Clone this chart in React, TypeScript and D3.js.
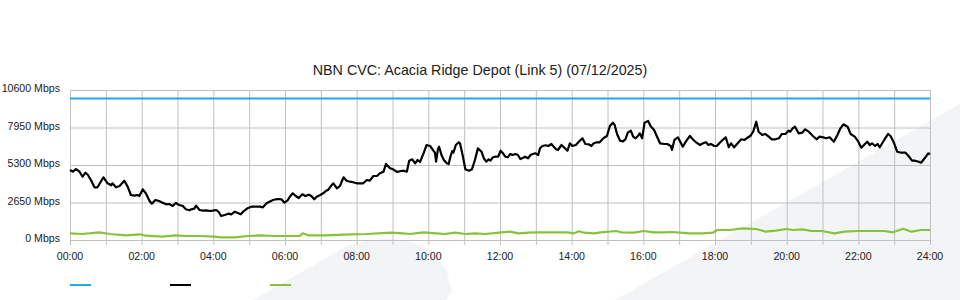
import React from "react";
import * as d3 from "d3";

const title = "NBN CVC: Acacia Ridge Depot (Link 5) (07/12/2025)";
const yTicks = [0, 2650, 5300, 7950, 10600];
const xGridHours = d3.range(0, 25, 1);
const xLabelHours = [0, 2, 4, 6, 8, 10, 12, 14, 16, 18, 20, 22, 24];

// capacity (blue)
const capacity: [number, number][] = [[0, 10000], [1440, 10000]];

// traffic (black) [minute of day, Mbps]
const inbound: [number, number][] = [
  [0,4947],[5,4827],[10,5017],[16,4827],[21,4473],[26,4756],[30,4593],[35,4240],[41,3724],[46,3724],[56,4431],[63,4007],[69,3866],[71,4007],[77,3724],[83,3816],[91,4191],[97,3724],[102,3180],[108,3131],[113,3180],[116,3109],[122,3583],[127,3300],[133,2777],[137,2565],[143,2827],[149,2756],[155,2636],[161,2523],[166,2544],[172,2403],[177,2615],[183,2473],[189,2403],[194,2169],[200,2099],[203,2169],[208,2212],[211,2424],[217,2120],[223,2071],[228,2099],[234,2049],[239,2071],[245,2120],[249,1979],[253,1696],[259,1767],[265,1859],[270,1816],[276,2000],[280,1929],[286,1816],[291,2049],[297,2240],[304,2353],[312,2353],[318,2353],[323,2311],[329,2593],[334,2707],[340,2827],[345,2876],[349,2897],[354,2876],[359,2636],[364,2777],[368,3060],[373,3300],[378,3109],[383,2968],[389,3229],[394,3109],[400,3201],[404,3109],[409,2876],[413,3060],[419,3180],[424,3300],[429,3484],[432,3533],[437,3816],[441,4007],[447,3653],[452,3816],[458,4431],[463,4191],[469,4120],[474,4078],[480,4007],[486,4007],[491,4007],[497,4240],[502,4191],[508,4523],[514,4523],[519,4713],[525,4827],[529,5371],[536,5067],[541,4996],[548,4805],[554,4876],[559,4897],[564,4827],[568,5604],[573,5703],[578,5420],[582,5653],[586,5512],[592,6127],[597,6713],[603,6643],[607,6410],[611,6169],[613,5533],[616,6410],[618,6593],[622,6007],[626,5653],[631,5420],[634,5371],[637,5887],[640,6289],[642,6169],[646,6713],[651,6904],[653,6833],[658,5887],[662,4996],[668,4897],[673,4996],[678,5653],[683,6480],[689,6240],[693,5774],[697,5533],[701,5703],[704,5604],[708,5844],[712,5887],[717,5887],[721,6311],[725,6127],[729,5887],[733,5844],[737,6077],[741,6007],[746,6077],[750,6007],[754,5724],[758,5795],[762,5887],[767,5773],[771,6007],[775,6077],[779,6127],[784,6007],[787,6480],[791,6643],[796,6692],[801,6643],[806,6784],[810,6593],[814,6410],[817,6360],[823,6713],[827,6551],[833,6311],[837,6833],[841,6643],[847,6713],[852,6947],[858,7187],[863,6784],[869,6763],[873,6643],[877,6833],[882,6904],[887,6904],[893,7187],[899,7349],[904,8056],[909,8289],[912,8127],[916,7491],[921,7017],[926,6975],[930,7116],[934,7583],[939,7724],[943,7300],[947,7187],[951,7349],[954,7540],[958,7187],[962,8289],[968,8409],[972,8056],[978,7773],[983,7300],[988,6833],[995,6784],[1000,6784],[1006,6643],[1008,6360],[1012,7067],[1018,7258],[1021,7017],[1026,6593],[1031,6947],[1038,7349],[1044,7067],[1049,6876],[1055,6713],[1060,6833],[1065,6904],[1069,6713],[1073,6784],[1079,6643],[1083,6643],[1088,6876],[1094,7116],[1098,7258],[1103,6551],[1107,6833],[1112,6551],[1118,6833],[1124,7116],[1129,7067],[1133,7187],[1139,7349],[1144,7653],[1149,8360],[1153,7653],[1159,7420],[1164,7491],[1170,7300],[1175,7116],[1181,7116],[1187,7187],[1192,7491],[1198,7491],[1203,7724],[1206,7653],[1210,7893],[1214,8007],[1220,7540],[1226,7582],[1231,7823],[1237,7653],[1244,7349],[1250,7116],[1255,7300],[1261,7258],[1266,7187],[1272,7258],[1279,6947],[1285,7420],[1290,7893],[1295,8176],[1302,8007],[1307,7491],[1314,7300],[1320,6947],[1325,6523],[1331,6784],[1335,6947],[1339,6713],[1343,6833],[1348,6643],[1352,6784],[1356,6551],[1360,6833],[1365,7187],[1370,7491],[1374,7349],[1380,6833],[1385,6240],[1392,6169],[1399,6169],[1404,5936],[1410,5604],[1415,5604],[1421,5533],[1425,5462],[1431,5773],[1437,6127],[1440,6060]
];

// traffic (green) [minute of day, Mbps]
const outbound: [number, number][] = [
  [0,473],[20,424],[49,544],[67,424],[94,332],[117,403],[127,304],[155,233],[177,332],[194,283],[218,283],[242,233],[253,191],[276,191],[298,283],[318,332],[343,283],[365,283],[385,283],[390,473],[399,332],[427,332],[458,375],[497,424],[536,516],[558,473],[569,424],[592,544],[613,473],[628,424],[645,516],[662,424],[678,473],[695,424],[718,516],[737,587],[751,473],[767,516],[785,544],[817,544],[833,544],[844,473],[852,615],[861,516],[877,473],[889,544],[914,636],[923,544],[944,516],[961,636],[978,544],[995,544],[1006,565],[1021,516],[1037,473],[1059,473],[1076,516],[1084,707],[1105,707],[1126,827],[1149,777],[1165,587],[1182,657],[1199,777],[1211,707],[1227,756],[1241,636],[1259,636],[1280,473],[1297,587],[1320,636],[1364,636],[1378,544],[1395,799],[1409,587],[1425,707],[1440,707]
];

const seriesColors = ["#22a9e1", "#000000", "#86c33a"];

const W = 960;
const H = 300;
const M = { left: 70, right: 30, top: 90, bottom: 60 };

const hourLabel = (h: number) => `${String(h).padStart(2, "0")}:00`;

export default function App() {
  const x = d3.scaleLinear().domain([0, 1440]).range([M.left, W - M.right]);
  const y = d3.scaleLinear().domain([0, 10600]).range([H - M.bottom, M.top]);
  const line = d3
    .line<[number, number]>()
    .x((d) => x(d[0]))
    .y((d) => y(d[1]));
  const font = "'Liberation Sans', Arial, sans-serif";
  const grid = "#c0c0c0";
  const y0 = y(0);
  const y1 = y(10600);
  const legendX = [70, 170, 270];

  return (
    <svg
      width={W}
      height={H}
      style={{ position: "absolute", left: 0, top: 0, display: "block", background: "#fff" }}
      fontFamily={font}
    >
      {/* watermark */}
      <path d="M253,300 L345,247 Q372,236 403,240 Q432,245 447,272 L452,292 L446,300 Z" fill="#f3f4f6" />
      <path d="M615,300 L960,104 L960,300 Z" fill="#f3f4f6" />

      <text x={480} y={75} textAnchor="middle" fontSize={14.3} fill="#222">
        {title}
      </text>

      {/* grid */}
      {yTicks.map((t) => (
        <line key={"h" + t} x1={M.left} x2={W - M.right} y1={y(t) + 0.5} y2={y(t) + 0.5} stroke={grid} strokeWidth={1} />
      ))}
      {xGridHours.map((h) => (
        <line key={"v" + h} x1={x(h * 60) + 0.5} x2={x(h * 60) + 0.5} y1={y1} y2={y0 + 5} stroke={grid} strokeWidth={1} />
      ))}

      {/* y labels */}
      {yTicks.map((t) => (
        <text key={"yl" + t} x={60} y={y(t) + 2} textAnchor="end" fontSize={10.6} fill="#222">
          {`${t} Mbps`}
        </text>
      ))}
      {/* x labels */}
      {xLabelHours.map((h) => (
        <text key={"xl" + h} x={x(h * 60)} y={260} textAnchor="middle" fontSize={10.6} fill="#222">
          {hourLabel(h)}
        </text>
      ))}

      {/* series */}
      <path d={line(capacity) || ""} fill="none" stroke={seriesColors[0]} strokeWidth={2} />
      <path d={line(outbound) || ""} fill="none" stroke={seriesColors[2]} strokeWidth={2.2} strokeLinejoin="round" />
      <path d={line(inbound) || ""} fill="none" stroke={seriesColors[1]} strokeWidth={2.2} strokeLinejoin="round" />

      {/* legend */}
      {seriesColors.map((c, i) => (
        <line key={"lg" + i} x1={legendX[i]} x2={legendX[i] + 21} y1={285} y2={285} stroke={c} strokeWidth={2} />
      ))}
    </svg>
  );
}
